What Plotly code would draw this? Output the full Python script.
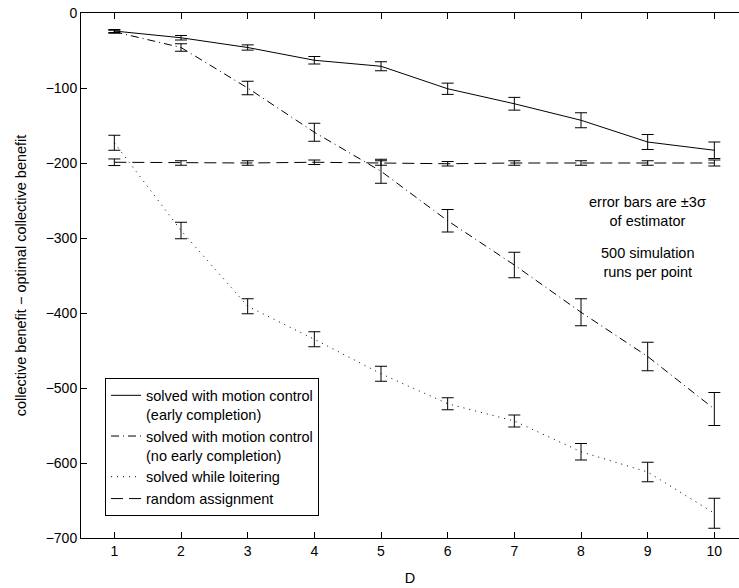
import plotly.graph_objects as go

D = [1, 2, 3, 4, 5, 6, 7, 8, 9, 10]

early_mean = [-24, -33, -46, -63, -71, -101, -121, -143, -172, -183]
early_err = [2, 3, 3.5, 5, 6, 7.5, 8.5, 10, 10, 11]

noearly_mean = [-25, -46, -100, -159, -211, -277, -336, -399, -458, -528]
noearly_err = [2, 5, 9, 12, 16, 15, 17, 18, 19, 22]

loiter_mean = [-173, -290, -391, -435, -481, -521, -544, -585, -612, -667]
loiter_err = [10, 11, 10, 10, 10, 8, 8, 11, 13, 20]

random_mean = [-199, -200, -200, -199, -200, -201, -200, -200, -200, -200]
random_err = [4.4, 3, 3, 3, 3, 3, 3, 3, 3, 4]

series = [
    ("solved with motion control<br>(early completion)", early_mean, early_err, "solid"),
    ("solved with motion control<br>(no early completion)", noearly_mean, noearly_err, "8px,4px,1px,4px"),
    ("solved while loitering", loiter_mean, loiter_err, "1px,5px"),
    ("random assignment", random_mean, random_err, "12px,6px"),
]

FONT = "Liberation Sans, Arial, Helvetica, sans-serif"
TXT = 14.5

fig = go.Figure()
for name, m, e, dash in series:
    fig.add_trace(go.Scatter(
        x=D, y=m, name=name, mode="lines",
        line=dict(color="black", width=1, dash=dash),
        error_y=dict(type="data", array=e, visible=True, color="black", thickness=1, width=6),
    ))

fig.add_annotation(x=9, y=-264, xref="x", yref="y",
                   text="error bars are ±3σ<br>of estimator", showarrow=False,
                   font=dict(family=FONT, size=TXT, color="black"), align="center")
fig.add_annotation(x=9, y=-333, xref="x", yref="y",
                   text="500 simulation<br>runs per point", showarrow=False,
                   font=dict(family=FONT, size=TXT, color="black"), align="center")

fig.update_layout(
    width=739, height=588,
    margin=dict(l=81, r=0, t=13, b=50),
    paper_bgcolor="white", plot_bgcolor="white",
    font=dict(family=FONT, size=14, color="black"),
    showlegend=True,
    legend=dict(x=0.0365, y=0.304, xanchor="left", yanchor="top",
                bgcolor="white", bordercolor="black", borderwidth=1,
                font=dict(family=FONT, size=TXT, color="black"),
                valign="top", tracegroupgap=0, itemwidth=30),
    xaxis=dict(range=[0.5, 10.37], tickvals=D, ticks="inside", ticklen=6,
               tickcolor="black", showline=True, linecolor="black", linewidth=1,
               mirror="ticks", showgrid=False, zeroline=False,
               tickfont=dict(size=14),
               title=dict(text="D", font=dict(family=FONT, size=TXT))),
    yaxis=dict(range=[-700, 0], tickvals=[0, -100, -200, -300, -400, -500, -600, -700],
               ticks="inside", ticklen=6, tickcolor="black", showline=True,
               linecolor="black", linewidth=1, showgrid=False, zeroline=False,
               tickfont=dict(size=14),
               title=dict(text="collective benefit − optimal collective benefit",
                          font=dict(family=FONT, size=TXT))),
)

fig.write_html("out.html")
